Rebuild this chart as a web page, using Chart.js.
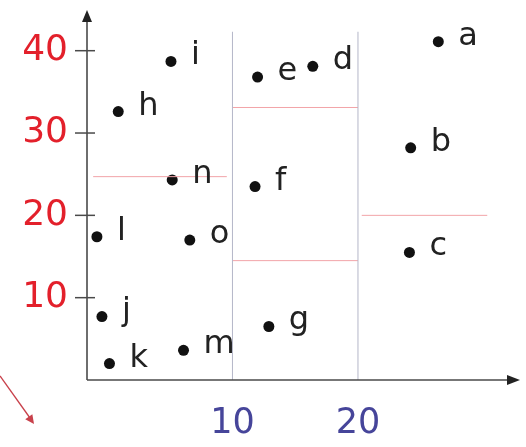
<!DOCTYPE html>
<html>
<head>
<meta charset="utf-8">
<script src="https://cdn.jsdelivr.net/npm/chart.js@4/dist/chart.umd.min.js"></script>
<style>
  html,body{margin:0;padding:0;background:#fff;}
  #wrap{width:526px;height:447px;position:relative;}
</style>
</head>
<body>
<div id="wrap"><canvas id="c" width="526" height="447"></canvas></div>
<script>
// ---- data ----
const pointNames = ['a','b','c','d','e','f','g','h','i','j','k','l','m','n','o'];
const pointX = [26.4, 24.2, 24.1, 16.4, 12.0, 11.8, 12.9, 0.9, 5.1, -0.4, 0.2, -0.8, 6.1, 5.2, 6.6];
const pointY = [41.1, 28.2, 15.5, 38.1, 36.8, 23.5, 6.5, 32.6, 38.7, 7.7, 2.0, 17.4, 3.6, 24.3, 17.0];

// split thresholds (vertical) and region means (horizontal segments)
const splitX = [10, 20];
const splitTop = 42.3;
const segX1 = [-1.1, 10, 10, 20.3];
const segX2 = [9.55, 20, 20, 30.3];
const segY  = [24.7, 33.1, 14.5, 20.0];

const xTicks = [10, 20];
const yTicks = [10, 20, 30, 40];

const xRange = [-1.59, 32.75];
const yRange = [0, 44.7];

// ---- datasets ----
const datasets = [];
splitX.forEach(v => datasets.push({
  type: 'line', data: [{x: v, y: 0}, {x: v, y: splitTop}],
  borderColor: '#b4b6c8', borderWidth: 1, pointRadius: 0, fill: false
}));
segY.forEach((v, i) => datasets.push({
  type: 'line', data: [{x: segX1[i], y: v}, {x: segX2[i], y: v}],
  borderColor: '#f2a4a8', borderWidth: 1, pointRadius: 0, fill: false
}));
datasets.push({
  type: 'scatter',
  data: pointX.map((x, i) => ({x: x, y: pointY[i]})),
  backgroundColor: '#111', borderWidth: 0, pointRadius: 5.5, pointHoverRadius: 5.5
});

const axisPlugin = {
  id: 'axes',
  afterDatasetsDraw(chart) {
    const ctx = chart.ctx, xs = chart.scales.x, ys = chart.scales.y;
    const ca = chart.chartArea;
    const x0 = ca.left, y0 = ys.getPixelForValue(0);
    ctx.save();
    ctx.strokeStyle = '#4a4a4a'; ctx.fillStyle = '#222'; ctx.lineWidth = 1.6;
    // y axis
    ctx.beginPath(); ctx.moveTo(x0, y0); ctx.lineTo(x0, ca.top + 6); ctx.stroke();
    ctx.beginPath(); ctx.moveTo(x0, ca.top - 2); ctx.lineTo(x0 - 5, ca.top + 10); ctx.lineTo(x0 + 5, ca.top + 10); ctx.closePath(); ctx.fill();
    // x axis
    ctx.beginPath(); ctx.moveTo(x0, y0); ctx.lineTo(ca.right - 6, y0); ctx.stroke();
    ctx.beginPath(); ctx.moveTo(ca.right + 2, y0); ctx.lineTo(ca.right - 11, y0 - 5); ctx.lineTo(ca.right - 11, y0 + 5); ctx.closePath(); ctx.fill();
    // y tick marks
    ctx.lineWidth = 1.5;
    yTicks.forEach(v => {
      const p = ys.getPixelForValue(v);
      ctx.beginPath(); ctx.moveTo(x0 - 12, p); ctx.lineTo(x0 + 8, p); ctx.stroke();
    });
    // point labels
    ctx.fillStyle = '#222';
    ctx.font = '32px "DejaVu Sans"';
    ctx.textBaseline = 'alphabetic'; ctx.textAlign = 'left';
    pointNames.forEach((n, i) => {
      ctx.fillText(n, xs.getPixelForValue(pointX[i]) + 20, ys.getPixelForValue(pointY[i]) + 3);
    });
    // decorative red arrow at bottom-left
    ctx.strokeStyle = '#c8414b'; ctx.fillStyle = '#c8414b'; ctx.lineWidth = 1.3;
    const ax1 = 0, ay1 = y0 - 4, ax2 = 34, ay2 = y0 + 44;
    ctx.beginPath(); ctx.moveTo(ax1, ay1); ctx.lineTo(ax2 - 4, ay2 - 6); ctx.stroke();
    const ang = Math.atan2(ay2 - ay1, ax2 - ax1);
    ctx.beginPath(); ctx.moveTo(ax2, ay2);
    ctx.lineTo(ax2 - 10 * Math.cos(ang - 0.45), ay2 - 10 * Math.sin(ang - 0.45));
    ctx.lineTo(ax2 - 10 * Math.cos(ang + 0.45), ay2 - 10 * Math.sin(ang + 0.45));
    ctx.closePath(); ctx.fill();
    ctx.restore();
  }
};

new Chart(document.getElementById('c'), {
  type: 'scatter',
  data: { datasets },
  options: {
    responsive: false, animation: false,
    layout: { padding: { top: 12, right: 8, left: 0, bottom: 0 } },
    plugins: { legend: { display: false }, tooltip: { enabled: false } },
    scales: {
      x: {
        type: 'linear', min: xRange[0], max: xRange[1],
        afterBuildTicks: s => { s.ticks = xTicks.map(v => ({value: v})); },
        afterFit: s => { s.height = 67; s.paddingLeft = 0; s.paddingRight = 0; },
        grid: { display: false, drawTicks: false },
        border: { display: false },
        ticks: { color: '#46459a', font: { family: 'DejaVu Sans', size: 35 }, padding: 23, maxRotation: 0, autoSkip: false }
      },
      y: {
        type: 'linear', min: yRange[0], max: yRange[1],
        afterBuildTicks: s => { s.ticks = yTicks.map(v => ({value: v})); },
        afterFit: s => { s.width = 87; s.paddingTop = 0; s.paddingBottom = 0; },
        grid: { display: false, drawTicks: false },
        border: { display: false },
        ticks: { color: '#e3202b', font: { family: 'DejaVu Sans', size: 36 }, padding: 19, autoSkip: false }
      }
    }
  },
  plugins: [axisPlugin]
});
</script>
</body>
</html>
